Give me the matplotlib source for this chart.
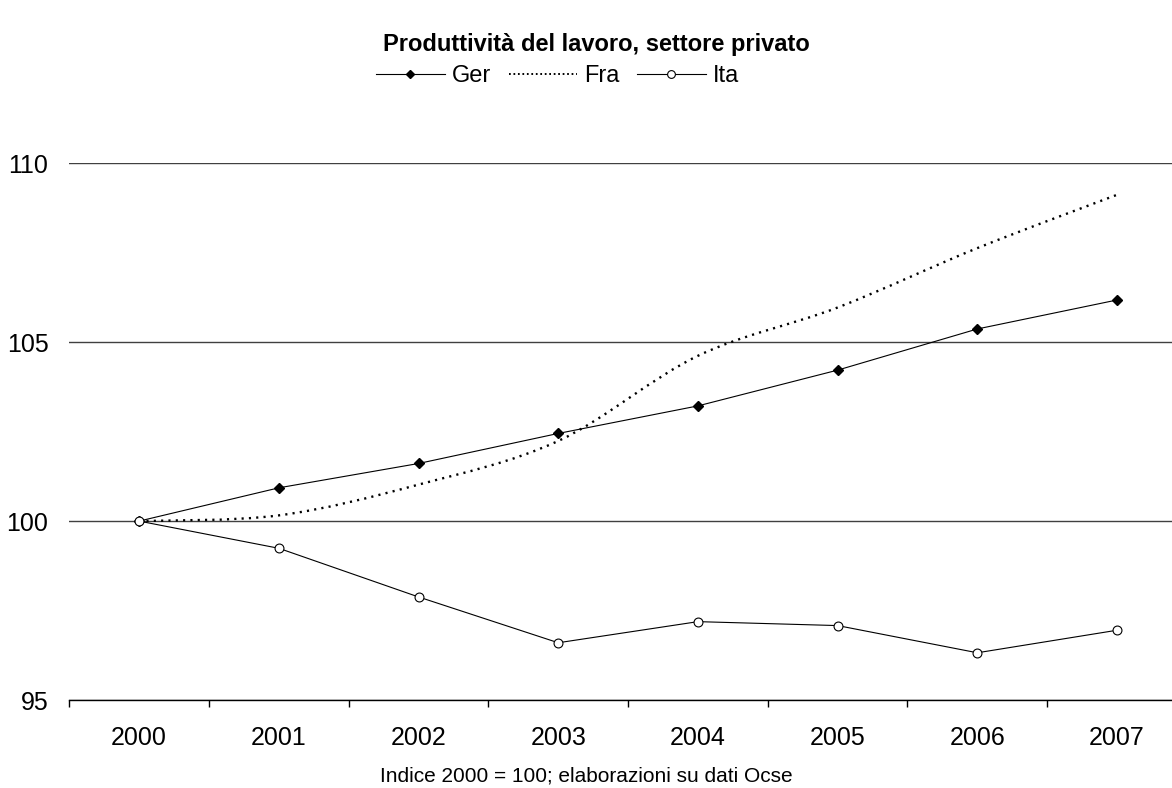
import numpy as np
import matplotlib
matplotlib.use("Agg")
import matplotlib.pyplot as plt
from matplotlib.path import Path
from matplotlib.patches import PathPatch
from matplotlib.lines import Line2D

plt.rcParams['font.family'] = ['Liberation Sans', 'DejaVu Sans']

years = ['2000', '2001', '2002', '2003', '2004', '2005', '2006', '2007']
ger = [100.0, 100.93, 101.61, 102.45, 103.22, 104.22, 105.37, 106.18]
fra = [100.0, 100.16, 101.02, 102.24, 104.62, 105.97, 107.63, 109.12]
ita = [100.0, 99.24, 97.88, 96.60, 97.19, 97.08, 96.32, 96.95]
y_ticks = [95, 100, 105, 110]

title = 'Produttività del lavoro, settore privato'
footer = 'Indice 2000 = 100; elaborazioni su dati Ocse'

W, H = 1172, 788
fig = plt.figure(figsize=(W / 100, H / 100), dpi=100)
ax = fig.add_axes([69.3 / W, 88 / H, 1117.6 / W, 536.7 / H])

x = np.arange(len(years))
ax.set_xlim(-0.5, len(years) - 0.5)
ax.set_ylim(95, 110)

# horizontal gridlines
ax.set_yticks(y_ticks)
ax.yaxis.grid(True, color='#404040', lw=1.0)
ax.set_axisbelow(True)
for s in ['top', 'right', 'left']:
    ax.spines[s].set_visible(False)
ax.spines['bottom'].set_color('black')
ax.spines['bottom'].set_linewidth(1.0)

ax.tick_params(axis='y', length=0, pad=15, labelsize=18)
ax.set_xticks(x)
ax.set_xticklabels(years)
ax.tick_params(axis='x', which='major', length=0, pad=19, labelsize=18)
ax.set_xticks(np.arange(-0.5, len(years)), minor=True)
ax.tick_params(axis='x', which='minor', length=5, width=1.0, direction='out', color='black')

# Germany: straight segments with diamond markers
ax.plot(x, ger, color='black', lw=0.8, marker='D', ms=5.2,
        mfc='black', mec='black', zorder=4)

# France: smoothed dotted curve (cubic Bezier through each point)
pts = np.column_stack([x, fra]).astype(float)
ext = np.vstack([pts[0], pts, pts[-1]])
verts = [tuple(pts[0])]
codes = [Path.MOVETO]
for i in range(len(pts) - 1):
    p0, p1, p2, p3 = ext[i], ext[i + 1], ext[i + 2], ext[i + 3]
    c1 = p1 + (p2 - p0) / 6.0
    c2 = p2 - (p3 - p1) / 6.0
    verts += [tuple(c1), tuple(c2), tuple(p2)]
    codes += [Path.CURVE4] * 3
fra_patch = PathPatch(Path(verts, codes), facecolor='none', edgecolor='black',
                      lw=1.7, linestyle=(0, (0.9, 2.2)), zorder=3)
ax.add_patch(fra_patch)

# Italy: straight segments with hollow circles
ax.plot(x, ita, color='black', lw=0.8, marker='o', ms=6.4,
        mfc='white', mec='black', mew=0.8, zorder=5)

fig.text(0.509, 1 - 45 / H, title, ha='center', va='center',
         fontsize=17, fontweight='bold')
fig.text(0.5, 1 - 776 / H, footer, ha='center', va='center', fontsize=15)

handles = [
    Line2D([], [], color='black', lw=0.8, marker='D', ms=4.4, mfc='black', mec='black'),
    Line2D([], [], color='black', lw=1.4, linestyle=(0, (0.9, 1.4))),
    Line2D([], [], color='black', lw=0.8, marker='o', ms=5.6, mfc='white', mec='black', mew=0.8),
]
fig.legend(handles, ['Ger', 'Fra', 'Ita'], loc='center', bbox_to_anchor=(0.4757, 1 - 76 / H),
           ncol=3, frameon=False, fontsize=17, handlelength=2.9, handletextpad=0.3,
           columnspacing=0.75, borderpad=0)

fig.savefig('out.png', dpi=100)
